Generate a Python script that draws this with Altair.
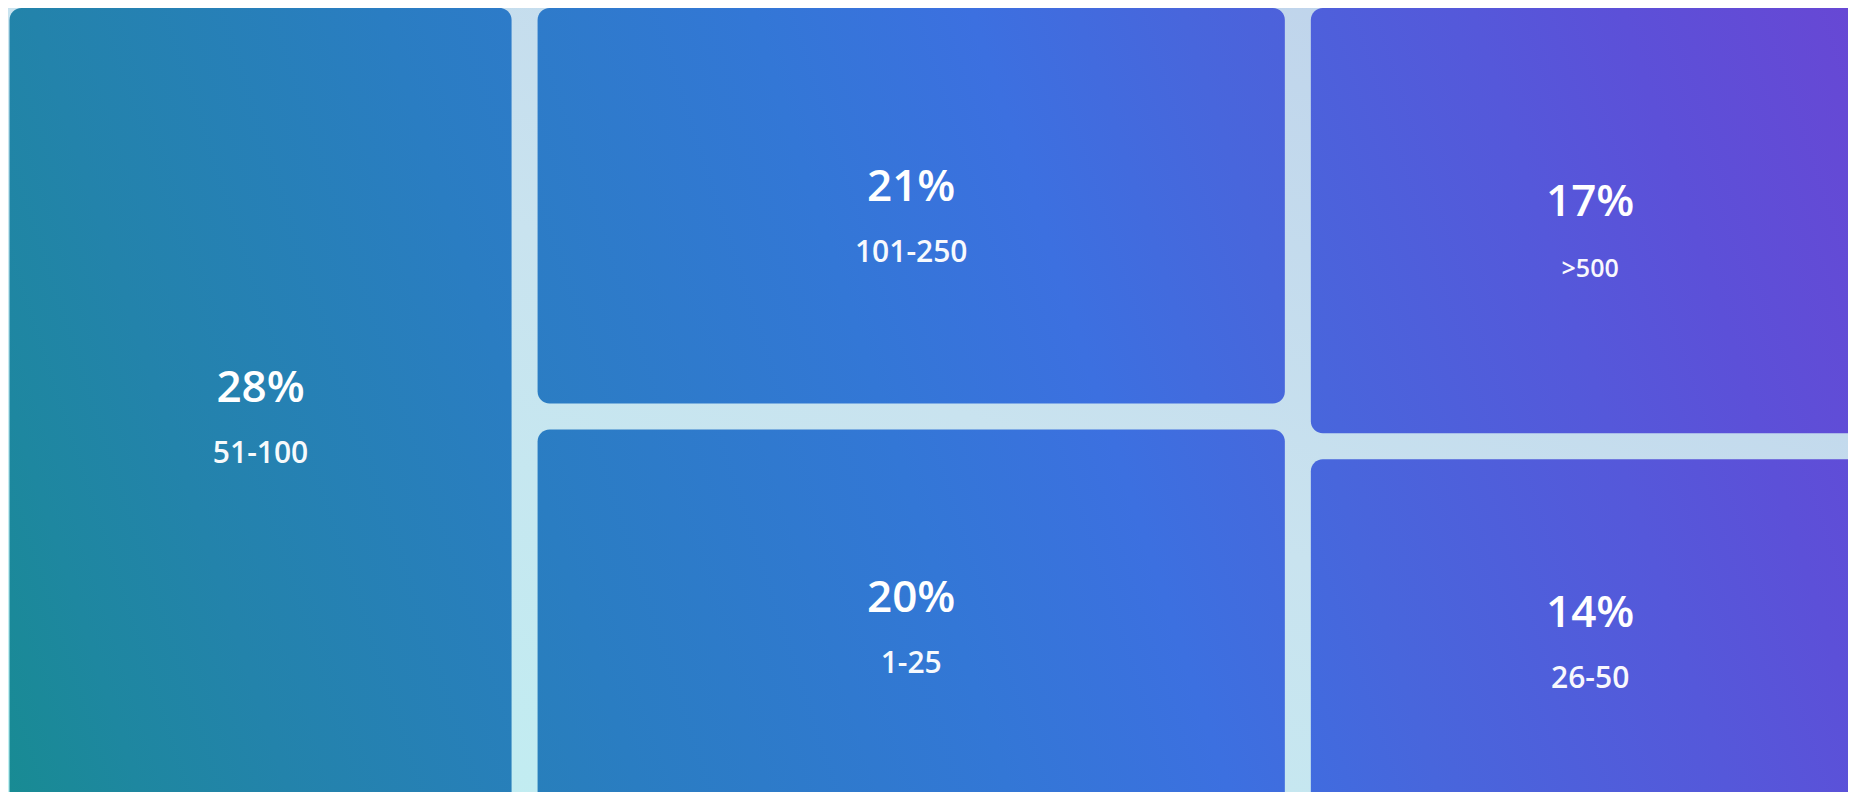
import altair as alt
import pandas as pd

# ---- data -------------------------------------------------------------
labels = ["51-100", "101-250", "1-25", ">500", "26-50"]
shares = [28, 21, 20, 17, 14]

# ---- style / layout parameters (page pixels) --------------------------
W, H = 1840, 784            # chart size (page margin is 8px)
ORIGIN_X, ORIGIN_Y = 9.5, 8.0
GAP = 26
TILE_W, TILE_H = 1886.0, 823.0
RADIUS = 12
PCT_SIZE = 44
LABEL_SIZE = {">500": 25}
LABEL_DEFAULT = 30

# global diagonal colour ramp: s = x - K*(y-400)
K = 0.33
ramp_s = [-150, 10, 160, 510, 880, 1100, 1310, 1600, 1750, 2030]
ramp_c = ["#178c90", "#1e87a0", "#2383ab", "#2a7dc2", "#3377d6",
          "#3c70e0", "#4866dc", "#5558da", "#5c50d8", "#6a46d4"]


def hex2rgb(h):
    h = h.lstrip("#")
    return [int(h[i:i + 2], 16) for i in (0, 2, 4)]


def rgb2hex(c):
    return "#" + "".join(f"{max(0, min(255, round(v))):02x}" for v in c)


def ramp_at(s):
    if s <= ramp_s[0]:
        return ramp_c[0]
    if s >= ramp_s[-1]:
        return ramp_c[-1]
    for i in range(len(ramp_s) - 1):
        if ramp_s[i] <= s <= ramp_s[i + 1]:
            t = (s - ramp_s[i]) / (ramp_s[i + 1] - ramp_s[i])
            a, b = hex2rgb(ramp_c[i]), hex2rgb(ramp_c[i + 1])
            return rgb2hex([a[j] + (b[j] - a[j]) * t for j in range(3)])


def squarify(values, x0, y0, x1, y1, ratio=1.0):
    rects = [None] * len(values)
    n = len(values)
    i0 = i1 = 0
    value = float(sum(values))
    while i0 < n:
        dx, dy = x1 - x0, y1 - y0
        sum_v = values[i1]
        i1 += 1
        min_v = max_v = sum_v
        alpha = max(dy / dx, dx / dy) / (value * ratio)
        beta = sum_v * sum_v * alpha
        min_ratio = max(max_v / beta, beta / min_v)
        while i1 < n:
            nv = values[i1]
            s2 = sum_v + nv
            mn, mx = min(min_v, nv), max(max_v, nv)
            beta = s2 * s2 * alpha
            new_ratio = max(mx / beta, beta / mn)
            if new_ratio > min_ratio:
                break
            sum_v, min_v, max_v, min_ratio = s2, mn, mx, new_ratio
            i1 += 1
        row = list(range(i0, i1))
        if dx < dy:
            ny = y0 + dy * sum_v / value
            cx = x0
            for i in row:
                w = (x1 - x0) * values[i] / sum_v
                rects[i] = (cx, y0, cx + w, ny)
                cx += w
            y0 = ny
        else:
            nx = x0 + dx * sum_v / value
            cy = y0
            for i in row:
                h = (y1 - y0) * values[i] / sum_v
                rects[i] = (x0, cy, nx, cy + h)
                cy += h
            x0 = nx
        value -= sum_v
        i0 = i1
    return rects


bx0 = ORIGIN_X - GAP / 2
by0 = ORIGIN_Y - GAP / 2
tiles = squarify(shares, bx0, by0, bx0 + TILE_W, by0 + TILE_H, ratio=1.0)

rows = []
for lab, v, (a, b, c, d) in zip(labels, shares, tiles):
    x0, y0, x1, y1 = a + GAP / 2, b + GAP / 2, c - GAP / 2, d - GAP / 2
    rows.append(dict(label=lab, share=v, pct=f"{v}%", x0=x0, x1=x1, y0=y0, y1=y1,
                     cx=(x0 + x1) / 2, cy=(y0 + y1) / 2,
                     fs=LABEL_SIZE.get(lab, LABEL_DEFAULT)))
df = pd.DataFrame(rows)


def tile_gradient(r):
    bw, bh = r["x1"] - r["x0"], r["y1"] - r["y0"]

    def s_at(u, v):
        return r["x0"] + u * bw - K * (r["y0"] + v * bh - 400)

    gx, gy = bw, -K * bh
    g2 = gx * gx + gy * gy
    s_c = s_at(0.5, 0.5)
    s_min, s_max = s_at(0, 1), s_at(1, 0)
    a0 = (s_min - s_c) / g2
    a1 = (s_max - s_c) / g2
    stops = [{"offset": 0, "color": ramp_at(s_min)}]
    for s, col in zip(ramp_s, ramp_c):
        if s_min < s < s_max:
            stops.append({"offset": (s - s_min) / (s_max - s_min), "color": col})
    stops.append({"offset": 1, "color": ramp_at(s_max)})
    return {"gradient": "linear",
            "x1": 0.5 + a0 * gx, "y1": 0.5 + a0 * gy,
            "x2": 0.5 + a1 * gx, "y2": 0.5 + a1 * gy,
            "stops": stops}


xs = alt.Scale(domain=[8, 8 + W], nice=False, zero=False)
ys = alt.Scale(domain=[8, 8 + H], nice=False, zero=False, reverse=True)

bg_grad = {"gradient": "linear", "x1": 0, "y1": 1, "x2": 1, "y2": 0,
           "stops": [{"offset": 0, "color": "#bff0f2"},
                     {"offset": 0.5, "color": "#c9e3ef"},
                     {"offset": 1, "color": "#bccfea"}]}

bg = alt.Chart(pd.DataFrame({"bg": [1]})).mark_rect(color=bg_grad).encode(
    x=alt.value(0), x2=alt.value(W), y=alt.value(0), y2=alt.value(H))

base = alt.Chart(df)
tile_layers = []
for _, r in df.iterrows():
    tile_layers.append(
        base.transform_filter(alt.datum.label == r["label"])
        .mark_rect(cornerRadius=RADIUS, clip=True, color=tile_gradient(r))
        .encode(x=alt.X("x0:Q", scale=xs, axis=None), x2="x1:Q",
                y=alt.Y("y0:Q", scale=ys, axis=None), y2="y1:Q")
    )

pct_text = base.mark_text(font="Open Sans", fontSize=PCT_SIZE, fontWeight=600,
                          color="white", align="center", baseline="alphabetic",
                          dy=-5).encode(
    x=alt.X("cx:Q", scale=xs, axis=None),
    y=alt.Y("cy:Q", scale=ys, axis=None),
    text="pct:N")

lab_text = base.mark_text(font="Open Sans", fontWeight=600, color="white",
                          opacity=0.96, align="center", baseline="alphabetic",
                          dy=56).encode(
    x=alt.X("cx:Q", scale=xs, axis=None),
    y=alt.Y("cy:Q", scale=ys, axis=None),
    size=alt.Size("fs:Q", scale=None, legend=None),
    text="label:N")

chart = alt.layer(bg, *tile_layers, pct_text, lab_text).properties(
    width=W, height=H, padding=0
).configure_view(strokeWidth=0)

chart.save("out.html", embed_options={"renderer": "svg", "actions": False})
